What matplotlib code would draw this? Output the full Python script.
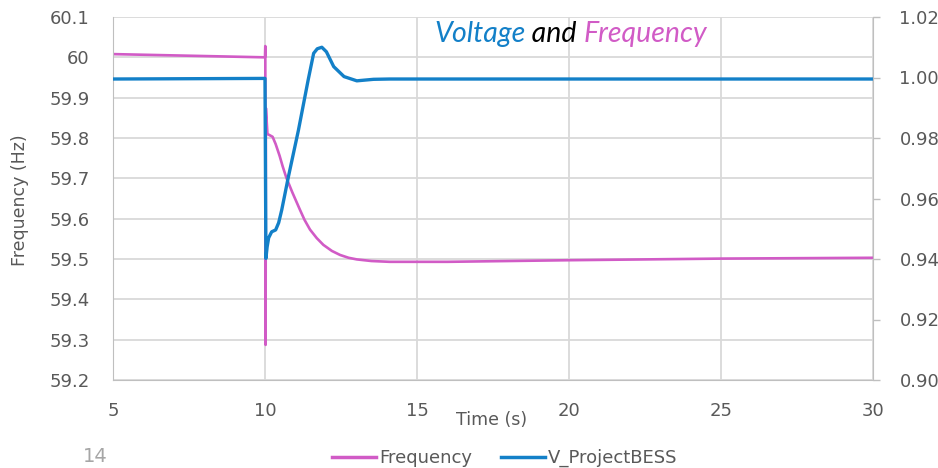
import matplotlib
matplotlib.use("Agg")
import matplotlib.pyplot as plt
from matplotlib.lines import Line2D

# ---- data ----
t_freq = [5.0, 10.0, 10.01, 10.02, 10.03, 10.08, 10.25, 10.35, 10.48, 10.58, 10.7, 10.9,
          11.15, 11.3, 11.48, 11.7, 11.92, 12.2, 12.47, 12.75, 13.02, 13.5, 14.1, 16.0, 20.0, 25.0, 30.0]
freq = [60.008, 60.0, 60.028, 59.287, 59.874, 59.81, 59.803, 59.785, 59.756, 59.730, 59.702, 59.665,
        59.622, 59.597, 59.573, 59.552, 59.535, 59.52, 59.51, 59.503, 59.499, 59.495, 59.493, 59.493,
        59.497, 59.501, 59.503]

t_volt = [5.0, 10.0, 10.03, 10.07, 10.12, 10.22, 10.35, 10.45, 10.55, 10.77, 11.1, 11.42, 11.6,
          11.72, 11.87, 12.02, 12.26, 12.6, 13.02, 13.57, 14.1, 20.0, 30.0]
volt = [0.9995, 0.9997, 0.9402, 0.9440, 0.9470, 0.9490, 0.9496, 0.9520, 0.9562, 0.9672, 0.9826,
        0.9992, 1.0080, 1.0095, 1.0100, 1.0085, 1.0036, 1.0003, 0.9989, 0.9994, 0.9995, 0.9995, 0.9995]

x_ticks = [5, 10, 15, 20, 25, 30]
left_ticks = [59.2, 59.3, 59.4, 59.5, 59.6, 59.7, 59.8, 59.9, 60.0, 60.1]
left_labels = ["59.2", "59.3", "59.4", "59.5", "59.6", "59.7", "59.8", "59.9", "60", "60.1"]
right_ticks = [0.90, 0.92, 0.94, 0.96, 0.98, 1.00, 1.02]
right_labels = ["0.90", "0.92", "0.94", "0.96", "0.98", "1.00", "1.02"]

PINK = "#D15BC6"
BLUE = "#1380C8"
GREY_TXT = "#595959"
GRID = "#D9D9D9"
AXIS = "#BFBFBF"

plt.rcParams['font.family'] = ['DejaVu Sans']

W, H = 938, 468
fig = plt.figure(figsize=(W / 100, H / 100), dpi=100)
ax = fig.add_axes([113 / W, (H - 380) / H, 760 / W, 363 / H])
ax2 = ax.twinx()

ax.set_xlim(5, 30)
ax.set_ylim(59.2, 60.1)
ax2.set_ylim(0.90, 1.02)

ax.set_xticks(x_ticks)
ax.set_xticklabels([str(x) for x in x_ticks])
ax.set_yticks(left_ticks)
ax.set_yticklabels(left_labels)
ax2.set_yticks(right_ticks)
ax2.set_yticklabels(right_labels)

ax.grid(True, color=GRID, linewidth=1.3)
ax.set_axisbelow(True)

for a in (ax, ax2):
    for s in a.spines.values():
        s.set_visible(False)
ax.spines['left'].set_visible(True)
ax.spines['left'].set_color(AXIS)
ax.spines['bottom'].set_visible(True)
ax.spines['bottom'].set_color(AXIS)
ax2.spines['right'].set_visible(True)
ax2.spines['right'].set_color(AXIS)

ax.tick_params(axis='x', length=0, pad=16, labelsize=13, labelcolor=GREY_TXT)
ax.tick_params(axis='y', length=0, pad=17, labelsize=13, labelcolor=GREY_TXT)
ax2.tick_params(axis='y', length=5, width=1, color=AXIS, direction='out', pad=14,
                labelsize=13, labelcolor=GREY_TXT)

ax.plot(t_freq, freq, color=PINK, linewidth=1.9, solid_joinstyle='round')
ax2.plot(t_volt, volt, color=BLUE, linewidth=2.4, solid_joinstyle='round')

fig.text(20 / W, 1 - 200 / H, "Frequency (Hz)", rotation=90, ha='center', va='center',
         fontsize=12.5, color=GREY_TXT)
fig.text(492 / W, 1 - 420 / H, "Time (s)", ha='center', va='center', fontsize=12.5, color=GREY_TXT)
fig.text(95 / W, 1 - 456 / H, "14", ha='center', va='center', fontsize=14, color="#A6A6A6")

# title in three colours
t1 = fig.text(434 / W, 1 - 42 / H, "Voltage", fontsize=20.5, style='italic', family='Lato',
              color=BLUE, ha='left', va='baseline')
t2 = ax.annotate(" and ", xy=(1, 0), xycoords=t1, fontsize=20.5, style='italic', family='Lato',
                 color='black', ha='left', va='bottom')
t3 = ax.annotate("Frequency", xy=(1, 0), xycoords=t2, fontsize=20.5, style='italic', family='Lato',
                 color=PINK, ha='left', va='bottom')

handles = [Line2D([], [], color=PINK, linewidth=2.5), Line2D([], [], color=BLUE, linewidth=2.5)]
fig.legend(handles, ["Frequency", "V_ProjectBESS"], loc='center', bbox_to_anchor=(505 / W, 1 - 458 / H),
           ncol=2, frameon=False, fontsize=13, handlelength=2.4, handletextpad=0.2,
           columnspacing=1.6, labelcolor=GREY_TXT)

fig.savefig("out.png", dpi=100)
